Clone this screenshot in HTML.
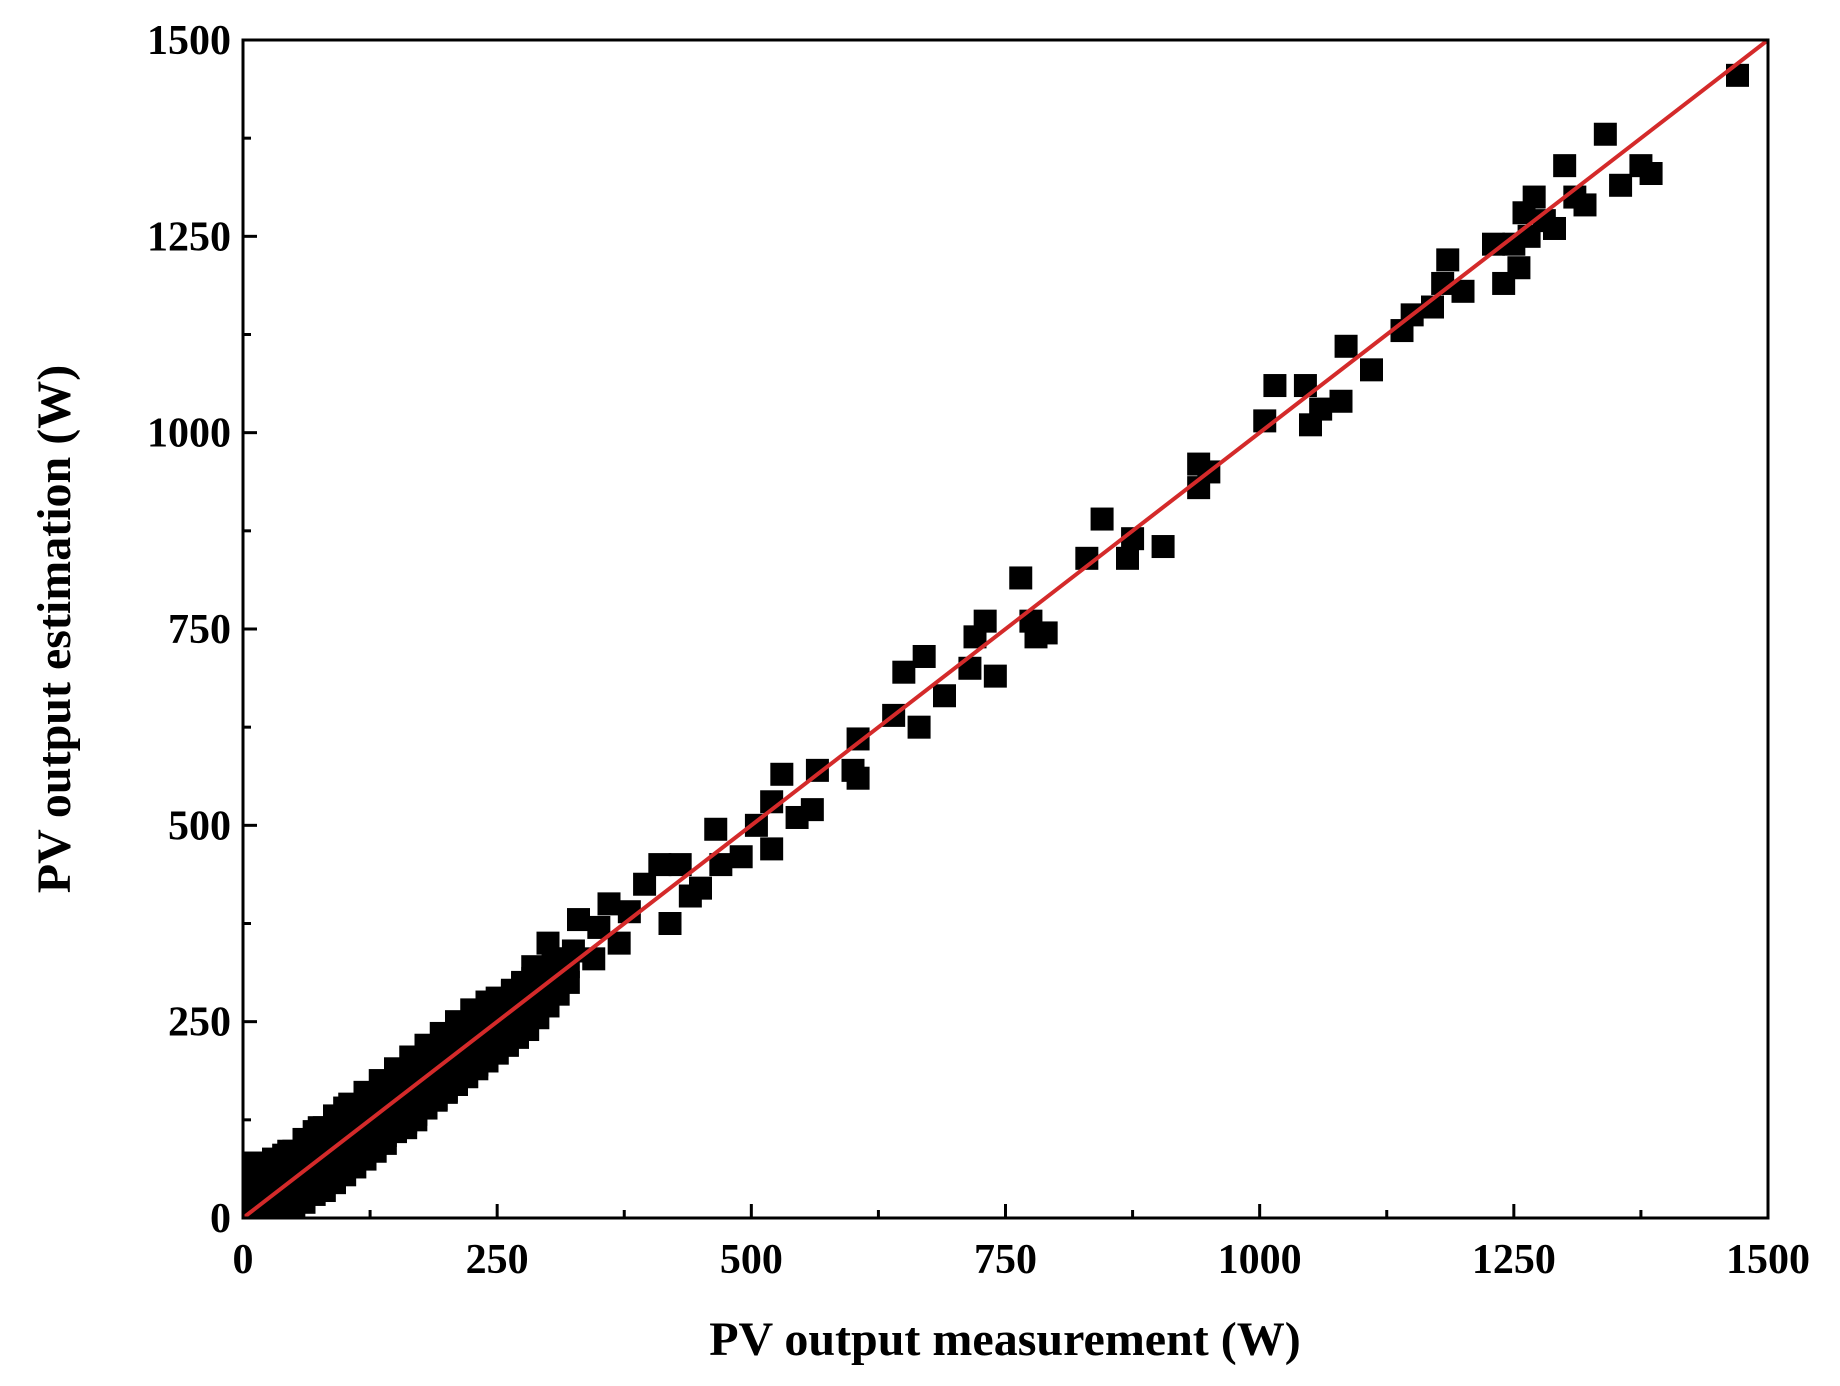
<!DOCTYPE html>
<html><head><meta charset="utf-8"><style>
html,body{margin:0;padding:0;background:#fff;}
svg{display:block;}
text{font-family:"Liberation Serif",serif;font-weight:bold;fill:#000;}
</style></head><body>
<svg id="chart" width="1840" height="1386" viewBox="0 0 1840 1386">
<g id="marks"></g>
<line id="fit" stroke="#d42a2a" stroke-width="4"/>
<rect id="frame" fill="none" stroke="#000" stroke-width="3"/>
<g id="axes"></g>
<text x="1005" y="1355" font-size="48" text-anchor="middle">PV output measurement (W)</text>
<text transform="translate(70,629) rotate(-90)" font-size="48" text-anchor="middle">PV output estimation (W)</text>
</svg>
<script>
const xTicks=[0,250,500,750,1000,1250,1500];
const yTicks=[0,250,500,750,1000,1250,1500];
const measured=[1470,1340,1355,1375,1385,1300,1310,1320,1290,1270,1260,1250,1255,1240,1265,1280,1230,1185,1180,1200,1170,1150,1140,1110,1085,1080,1060,1050,1045,1015,1005,940,950,940,905,870,875,845,830,790,780,775,765,740,730,720,715,690,670,665,650,640,605,600,605,565,560,545,530,520,505,520,490,470,465,450,440,430,420,410,395,380,370,360,350,345,330,320,300,290,
310,305,295,285,280,275,270,265,260,255,250,245,240,235,230,225,220,215,210,205,200,195,190,185,180,175,170,165,160,155,150,145,140,135,130,125,120,115,110,105,100,95,90,85,80,75,70,65,60,55,50,45,40,35,30,25,20,15,10,5,0,
270,260,250,240,230,220,210,200,190,180,170,160,150,140,130,120,110,100,90,80,70,60,50,40,30,20,10,0,
240,225,210,195,180,165,150,135,120,105,90,75,60,45,30,15,5,0,0,10,20,30];
const estimated=[1455,1380,1315,1340,1330,1340,1300,1290,1260,1300,1280,1240,1210,1190,1250,1270,1240,1220,1190,1180,1160,1150,1130,1080,1110,1040,1030,1010,1060,1060,1015,960,950,930,855,840,865,890,840,745,740,760,815,690,760,740,700,665,715,625,695,640,610,570,560,570,520,510,565,530,500,470,460,450,495,420,410,450,375,450,425,390,350,400,370,330,380,320,350,300,
300,330,315,320,290,300,280,290,275,250,280,235,260,225,250,225,240,205,225,200,220,185,210,175,200,165,195,155,180,145,175,135,165,130,155,120,150,110,140,100,140,90,125,80,115,70,110,60,100,50,85,40,80,35,70,25,65,20,55,15,45,
240,220,210,200,195,180,170,160,150,140,125,115,110,95,85,75,65,55,45,35,30,20,15,10,5,5,0,0,
275,265,250,235,220,205,190,175,160,145,130,115,100,85,75,60,45,30,60,70,55,65];
const measuredDense=[5,15,25,35,45,55,65,75,85,95,105,115,125,135,145,155,165,175,185,195,205,215,225,235,245,255,265,275,285,295,305,315,325,
10,20,30,40,50,60,70,80,90,100,110,120,130,140,150,160,170,180,190,200,210,220,230,240,250,260,270,280,290,300,310,320,
15,35,55,75,95,115,135,155,175,195,215,235,255,275,295,
25,45,65,85,105,125,145,165,185,205,225,245,265,285,
10,20,30,40,50,60];
const estimatedDense=[30,40,55,60,70,80,90,100,110,118,128,140,150,158,168,178,188,198,208,218,228,238,248,258,268,278,288,298,305,315,320,330,340,
-5,0,10,20,25,35,40,50,60,65,75,85,95,105,112,122,132,142,152,162,172,180,190,200,210,220,230,240,255,270,285,300,
15,25,45,60,80,100,120,140,160,180,200,220,240,262,285,
5,22,40,60,82,102,125,145,168,188,210,232,252,275,
50,60,70,75,80,90];
const L=243,R=1768,T=40,B=1218;
const xs=v=>L+(v/1500)*(R-L);
const ys=v=>B-(v/1500)*(B-T);
const NS="http://www.w3.org/2000/svg";
const marks=document.getElementById('marks');
const S=23;
function plot(mx,ey){
 for(let i=0;i<mx.length;i++){
  const r=document.createElementNS(NS,'rect');
  let cx=Math.max(xs(mx[i]),L+S/2), cy=Math.min(ys(ey[i]),B-S/2);
  r.setAttribute('x',cx-S/2);r.setAttribute('y',cy-S/2);
  r.setAttribute('width',S);r.setAttribute('height',S);r.setAttribute('fill','#000');
  
  
  marks.appendChild(r);
 }
}
plot(measured,estimated);
plot(measuredDense,estimatedDense);
const fit=document.getElementById('fit');
fit.setAttribute('x1',xs(0));fit.setAttribute('y1',ys(0));fit.setAttribute('x2',xs(1500));fit.setAttribute('y2',ys(1500));
const fr=document.getElementById('frame');
fr.setAttribute('x',L);fr.setAttribute('y',T);fr.setAttribute('width',R-L);fr.setAttribute('height',B-T);
const axes=document.getElementById('axes');
function line(x1,y1,x2,y2,name){const l=document.createElementNS(NS,'line');
 l.setAttribute('x1',x1);l.setAttribute('y1',y1);l.setAttribute('x2',x2);l.setAttribute('y2',y2);
 l.setAttribute('stroke','#000');l.setAttribute('stroke-width','3');
 
 
 axes.appendChild(l);}
function text(x,y,s,anchor,name){const t=document.createElementNS(NS,'text');
 t.setAttribute('x',x);t.setAttribute('y',y);t.setAttribute('font-size','42');t.setAttribute('text-anchor',anchor);t.textContent=s;
 
 
 axes.appendChild(t);}
xTicks.forEach((v,i)=>{line(xs(v),B,xs(v),B-14,'x-tick');text(xs(v),B+55,String(v),'middle','x-tick-label');
 if(i<xTicks.length-1){const m=v+125;line(xs(m),B,xs(m),B-8,'x-minor-tick');}});
yTicks.forEach((v,i)=>{line(L,ys(v),L+14,ys(v),'y-tick');text(L-12,ys(v)+14,String(v),'end','y-tick-label');
 if(i<yTicks.length-1){const m=v+125;line(L,ys(m),L+8,ys(m),'y-minor-tick');}});
</script>
</body></html>
